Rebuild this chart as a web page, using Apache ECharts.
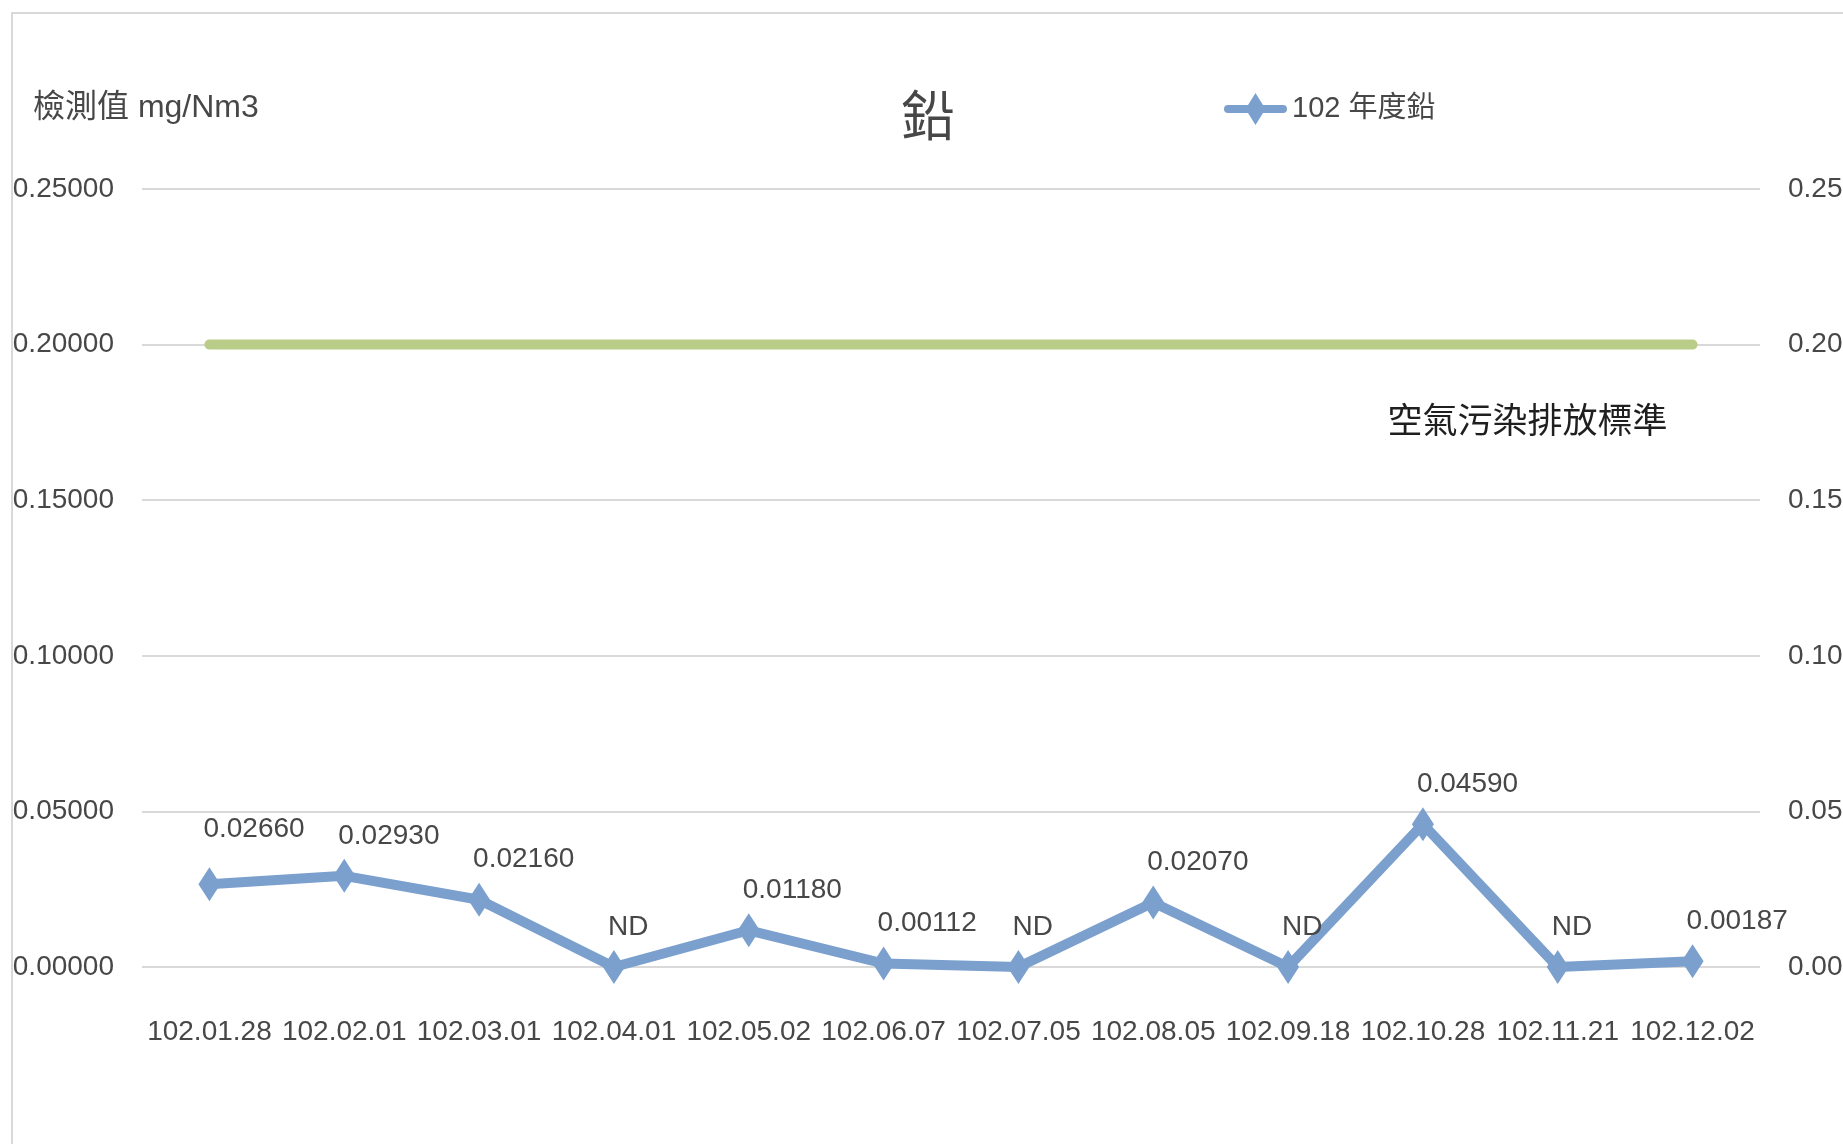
<!DOCTYPE html>
<html>
<head>
<meta charset="utf-8">
<script src="https://cdn.jsdelivr.net/npm/echarts@6/dist/echarts.min.js"></script>
<style>
  html, body { margin: 0; padding: 0; background: #fff; }
  #main { width: 1843px; height: 1144px; }
</style>
</head>
<body>
<div id="main"></div>
<script>
// 資料
var dates = ['102.01.28', '102.02.01', '102.03.01', '102.04.01', '102.05.02', '102.06.07',
             '102.07.05', '102.08.05', '102.09.18', '102.10.28', '102.11.21', '102.12.02'];
// ND 以 0 表示
var leadValues = [0.0266, 0.0293, 0.0216, 0, 0.0118, 0.00112, 0, 0.0207, 0, 0.0459, 0, 0.00187];
var standardValues = [0.2, 0.2, 0.2, 0.2, 0.2, 0.2, 0.2, 0.2, 0.2, 0.2, 0.2, 0.2];
var yTicks = [0, 0.05, 0.10, 0.15, 0.20, 0.25];

(function () {
  var myChart = echarts.init(document.getElementById('main'));
  var txt = '#474747';
  var font = '"Liberation Sans", "Noto Sans CJK TC", sans-serif';

  var leadData = leadValues.map(function (v, i) {
    if (i === 0) return { value: v, label: { offset: [-6, -19] } };
    return v;
  });

  var option = {
    animation: false,
    backgroundColor: '#fff',
    textStyle: { fontFamily: font },
    title: [
      {
        text: '鉛',
        left: 928, top: 121,
        textAlign: 'center', textVerticalAlign: 'middle',
        padding: 0,
        textStyle: { fontSize: 54, fontWeight: 'normal', color: txt, fontFamily: font }
      },
      {
        text: '檢測值 mg/Nm3',
        left: 33, top: 92,
        padding: 0,
        textStyle: { fontSize: 32, fontWeight: 'normal', color: txt, fontFamily: font }
      }
    ],
    legend: {
      data: ['102 年度鉛'],
      left: 1224, top: 93,
      padding: 0,
      icon: 'path://M4,12 L24,12 L31.5,0 L39,12 L59,12 A4,4 0 0 1 59,20 L39,20 L31.5,32 L24,20 L4,20 A4,4 0 0 1 4,12 Z',
      itemWidth: 63, itemHeight: 32, itemGap: 4,
      textStyle: { fontSize: 29, color: txt, fontFamily: font }
    },
    graphic: [{
      type: 'rect',
      shape: { x: 12, y: 13, width: 1900, height: 1200 },
      style: { fill: 'none', stroke: '#d9d9d9', lineWidth: 2 },
      silent: true
    }],
    grid: { left: 142, right: 83, top: 189, bottom: 177, containLabel: false, outerBoundsMode: 'none' },
    xAxis: {
      type: 'category',
      data: dates,
      boundaryGap: true,
      axisLine: { show: false },
      axisTick: { show: false },
      axisLabel: { margin: 51, fontSize: 28, color: txt, fontFamily: font, interval: 0 }
    },
    yAxis: [
      {
        type: 'value', min: 0, max: 0.25, interval: 0.05,
        axisLine: { show: false }, axisTick: { show: false },
        axisLabel: { margin: 28, fontSize: 28, color: txt, fontFamily: font,
          formatter: function (v) { return v.toFixed(5); } },
        splitLine: { lineStyle: { color: '#d9d9d9', width: 2 } }
      },
      {
        type: 'value', min: 0, max: 0.25, interval: 0.05, position: 'right',
        axisLine: { show: false }, axisTick: { show: false },
        axisLabel: { margin: 28, fontSize: 28, color: txt, fontFamily: font, align: 'left',
          formatter: function (v) { return v.toFixed(5); } },
        splitLine: { show: false }
      }
    ],
    series: [
      {
        name: '空氣污染排放標準',
        type: 'line',
        yAxisIndex: 1,
        data: standardValues,
        showSymbol: false,
        lineStyle: { color: '#B9CD88', width: 10, cap: 'round' },
        itemStyle: { color: '#B9CD88' },
        endLabel: {
          show: true,
          formatter: '空氣污染排放標準',
          offset: [-313, 79],
          fontSize: 35,
          color: '#1f1f1f',
          fontFamily: font
        },
        z: 1
      },
      {
        name: '102 年度鉛',
        type: 'line',
        yAxisIndex: 0,
        data: leadData,
        symbol: 'diamond',
        symbolSize: [22, 34],
        lineStyle: { color: '#7BA0CE', width: 10 },
        itemStyle: { color: '#7BA0CE' },
        label: {
          show: true,
          position: 'top',
          align: 'left',
          offset: [-6, -4],
          fontSize: 28,
          color: txt,
          fontFamily: font,
          formatter: function (p) { return p.value === 0 ? 'ND' : p.value.toFixed(5); }
        },
        z: 3
      }
    ]
  };
  myChart.setOption(option);
  window.addEventListener('resize', function () {
    myChart.resize();
  });
})();
</script>
</body>
</html>
